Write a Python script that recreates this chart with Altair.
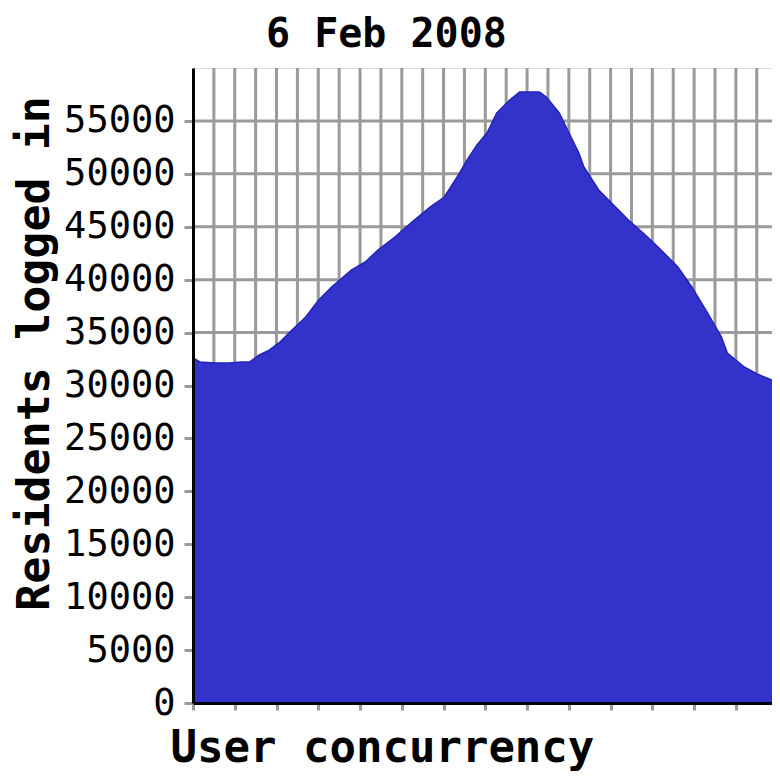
import altair as alt
import pandas as pd

x_pos = [0.00, 0.33, 1.04, 1.75, 2.32, 2.70, 3.18, 3.65, 4.12, 4.74, 5.40, 6.02,
         6.64, 7.58, 8.25, 8.86, 9.67, 10.43, 11.37, 12.04, 12.65, 13.13, 13.60,
         14.08, 14.55, 15.17, 15.64, 16.59, 16.92, 17.54, 18.01, 18.48, 18.72,
         19.43, 20.14, 20.85, 21.56, 22.27, 23.22, 23.89, 24.64, 25.31, 25.59,
         26.40, 27.01, 27.73]
residents = [32600, 32220, 32130, 32130, 32220, 32220, 32880, 33350, 34020, 35250,
             36470, 38080, 39310, 40910, 41670, 42800, 44030, 45350, 46870, 47810,
             49700, 51310, 52730, 53860, 55750, 56980, 57730, 57730, 57260, 55750,
             53860, 51970, 50650, 48470, 47060, 45640, 44410, 43090, 41200, 39310,
             36850, 34580, 33070, 31750, 31090, 30520]

x_grid = list(range(1, 28))
y_grid = list(range(5000, 60000, 5000))
y_ticks = list(range(0, 60000, 5000))
x_ticks = list(range(0, 28))

X_DOMAIN = [0, 27.73]
Y_DOMAIN = [0, 60000]

df = pd.DataFrame({"x": x_pos, "y": residents})
gx = pd.DataFrame({"g": x_grid})
gy = pd.DataFrame({"g": y_grid})

GRID = "#9a9a9a"
FONT = "DejaVu Sans Mono"

x_scale = alt.Scale(domain=X_DOMAIN, nice=False, zero=False)
y_scale = alt.Scale(domain=Y_DOMAIN, nice=False)

vgrid = alt.Chart(gx).mark_rule(color=GRID, strokeWidth=3).encode(
    x=alt.X("g:Q", scale=x_scale)
)
hgrid = alt.Chart(gy).mark_rule(color=GRID, strokeWidth=3).encode(
    y=alt.Y("g:Q", scale=y_scale)
)

area = alt.Chart(df).mark_area(
    color="#3333cc",
    opacity=1,
    line={"color": "#2222bb", "strokeWidth": 1.5},
).encode(
    x=alt.X(
        "x:Q",
        scale=x_scale,
        axis=alt.Axis(
            values=x_ticks,
            labels=False,
            grid=False,
            domainColor="black",
            domainWidth=3,
            tickColor=GRID,
            tickWidth=3,
            tickSize=7,
            zindex=1,
            title="User concurrency",
            titleFont=FONT,
            titleFontSize=44,
            titleFontWeight="bold",
            titleColor="black",
            titleAlign="left",
            titleBaseline="alphabetic",
            titleX=-23,
            titleY=58,
        ),
    ),
    y=alt.Y(
        "y:Q",
        scale=y_scale,
        axis=alt.Axis(
            values=y_ticks,
            format="d",
            grid=False,
            domainColor="black",
            domainWidth=3,
            tickColor=GRID,
            tickWidth=3,
            tickSize=9,
            labelPadding=9,
            labelFont=FONT,
            labelFontSize=37,
            labelColor="black",
            labelBaseline="middle",
            labelOverlap=False,
            labelFlush=False,
            zindex=1,
            title="Residents logged in",
            titleFont=FONT,
            titleFontSize=45,
            titleFontWeight="bold",
            titleColor="black",
            titleAngle=270,
            titleAlign="center",
            titleBaseline="alphabetic",
            titleX=-145,
            titleY=285,
        ),
    ),
)

chart = alt.layer(vgrid, hgrid, area).properties(
    width=579,
    height=635,
    title=alt.TitleParams(
        "6 Feb 2008",
        font=FONT,
        fontSize=40,
        fontWeight="bold",
        color="black",
        anchor="start",
        dx=254,
        offset=12,
    ),
    padding={"left": 185, "top": 60, "right": 0, "bottom": 69},
    autosize=alt.AutoSizeParams(type="none"),
).configure_view(
    stroke="black", strokeWidth=3
).configure(background="white")

chart.save("out.html", embed_options={"renderer": "svg", "actions": False})
